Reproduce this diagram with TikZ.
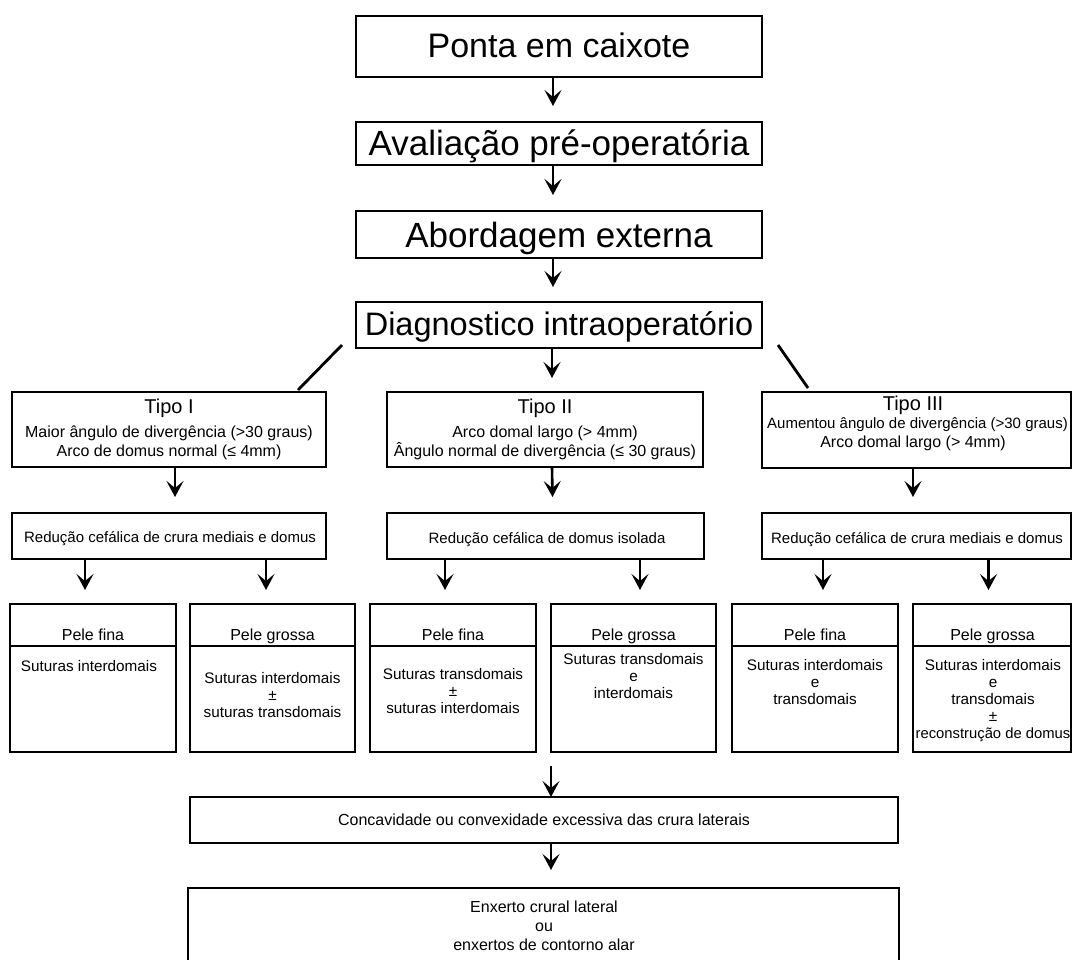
\documentclass[tikz,border=0pt]{standalone}
\usepackage{fontspec}
\setmainfont{Liberation Sans}
\usetikzlibrary{arrows.meta,calc}
\newcommand\fsz[1]{\fontsize{#1}{#1}\selectfont}
\tikzset{
  box/.style={draw, line width=1.5pt, inner sep=0pt, outer sep=0pt},
  bbox/.style={draw, line width=2.8pt, inner sep=0pt, outer sep=0pt},
  divline/.style={line width=1.5pt},
  arr/.style={line width=2.6pt, -{Stealth[length=16pt,width=17pt,inset=7pt]}},
  dline/.style={line width=2.8pt},
  txt/.style={anchor=base, inner sep=0pt},
}
\newcommand\rbox[6][box]{\node[#1,minimum width={#5-#3},minimum height={#6-#4}] (#2) at ({(#3+#5)/2},{(#4+#6)/2}) {};}
\begin{document}
\begin{tikzpicture}[x=1pt,y=-1pt]
\useasboundingbox (0,0) rectangle (1073,959);
\fill[white] (0,0) rectangle (1073,959);
% top chain
\rbox[bbox]{ponta}{356}{16}{762}{77}
\rbox{aval}{356}{122}{762}{165}
\rbox{abord}{356}{211}{762}{258}
\rbox{diag}{356}{302}{762}{348}
\node[txt,font=\fsz{34}] (pontat) at (559,57) {Ponta em caixote};
\node[txt,font=\fsz{35}] (avalt) at (559,155) {Avaliação pré-operatória};
\node[txt,font=\fsz{35}] (abordt) at (559,247) {Abordagem externa};
\node[txt,font=\fsz{32.5}] (diagt) at (559,335) {Diagnostico intraoperatório};
% tipo boxes
\rbox{tipo1}{12}{392}{326}{467}
\rbox{tipo2}{387}{392}{703}{467}
\rbox{tipo3}{762}{392}{1071}{468}
\node[txt,font=\fsz{20}] (t1a) at (169,413) {Tipo I};
\node[txt,font=\fsz{16}] (t1b) at (169,437) {Maior ângulo de divergência (>30 graus)};
\node[txt,font=\fsz{16}] (t1c) at (169,456) {Arco de domus normal (≤ 4mm)};
\node[txt,font=\fsz{20}] (t2a) at (545,413) {Tipo II};
\node[txt,font=\fsz{16}] (t2b) at (545,437) {Arco domal largo (> 4mm)};
\node[txt,font=\fsz{16}] (t2c) at (545,456) {Ângulo normal de divergência (≤ 30 graus)};
\node[txt,font=\fsz{20}] (t3a) at (913,410) {Tipo III};
\node[txt,anchor=base west,font=\fsz{15}] (t3b) at (767,428) {Aumentou ângulo de divergência (>30 graus)};
\node[txt,font=\fsz{16}] (t3c) at (913,447) {Arco domal largo (> 4mm)};
% reducao boxes
\rbox{red1}{12}{513}{326}{559}
\rbox{red2}{387}{513}{704}{559}
\rbox{red3}{762}{513}{1071}{559}
\node[txt,font=\fsz{15}] (r1t) at (170,542) {Redução cefálica de crura mediais e domus};
\node[txt,font=\fsz{15}] (r2t) at (547,543) {Redução cefálica de domus isolada};
\node[txt,font=\fsz{15}] (r3t) at (917,543) {Redução cefálica de crura mediais e domus};
% lower boxes
\rbox{pf1}{10}{604}{176}{752}
\rbox{pg1}{190}{604}{355}{752}
\rbox{pf2}{370}{604}{536}{752}
\rbox{pg2}{551}{604}{716}{752}
\rbox{pf3}{732}{604}{898}{752}
\rbox{pg3}{913}{604}{1071}{752}
\foreach \b in {pf1,pg1,pf2,pg2,pf3,pg3}{
  \draw[divline] ([yshift=-42pt]\b.north west) -- ([yshift=-42pt]\b.north east);
}
\node[txt,font=\fsz{16}] (pf1h) at (93,640) {Pele fina};
\node[txt,font=\fsz{16}] (pg1h) at (272.5,640) {Pele grossa};
\node[txt,font=\fsz{16}] (pf2h) at (453,640) {Pele fina};
\node[txt,font=\fsz{16}] (pg2h) at (633.5,640) {Pele grossa};
\node[txt,font=\fsz{16}] (pf3h) at (815,640) {Pele fina};
\node[txt,font=\fsz{16}] (pg3h) at (992.5,640) {Pele grossa};
\node[txt,font=\fsz{15.3}] (pf1a) at (89,671) {Suturas interdomais};
\node[txt,font=\fsz{15.3}] (pg1a) at (272.5,683) {Suturas interdomais};
\node[txt,font=\fsz{15.3}] (pg1b) at (272.5,700) {±};
\node[txt,font=\fsz{15.3}] (pg1c) at (272.5,717) {suturas transdomais};
\node[txt,font=\fsz{15.3}] (pf2a) at (453,679) {Suturas transdomais};
\node[txt,font=\fsz{15.3}] (pf2b) at (453,696) {±};
\node[txt,font=\fsz{15.3}] (pf2c) at (453,713) {suturas interdomais};
\node[txt,font=\fsz{15.3}] (pg2a) at (633.5,664) {Suturas transdomais};
\node[txt,font=\fsz{15.3}] (pg2b) at (633.5,681) {e};
\node[txt,font=\fsz{15.3}] (pg2c) at (633.5,698) {interdomais};
\node[txt,font=\fsz{15.3}] (pf3a) at (815,670) {Suturas interdomais};
\node[txt,font=\fsz{15.3}] (pf3b) at (815,687) {e};
\node[txt,font=\fsz{15.3}] (pf3c) at (815,704) {transdomais};
\node[txt,font=\fsz{15.3}] (pg3a) at (993,670) {Suturas interdomais};
\node[txt,font=\fsz{15.3}] (pg3b) at (993,687) {e};
\node[txt,font=\fsz{15.3}] (pg3c) at (993,704) {transdomais};
\node[txt,font=\fsz{15.3}] (pg3d) at (993,721) {±};
\node[txt,font=\fsz{14.8}] (pg3e) at (993,738) {reconstrução de domus};
% bottom
\rbox{conc}{190}{797}{898}{843}
\rbox[bbox]{final}{188}{888}{899}{975}
\node[txt,font=\fsz{16}] (conct) at (544,825) {Concavidade ou convexidade excessiva das crura laterais};
\node[txt,font=\fsz{16}] (fa) at (544,912) {Enxerto crural lateral};
\node[txt,font=\fsz{16}] (fb) at (544,931) {ou};
\node[txt,font=\fsz{16}] (fc) at (544,950) {enxertos de contorno alar};
% arrows
\draw[arr] ([xshift=-6pt]ponta.south) -- ([xshift=-6pt,yshift=16pt]aval.north);
\draw[arr] ([xshift=-6pt]aval.south) -- ([xshift=-6pt,yshift=16pt]abord.north);
\draw[arr] ([xshift=-6pt]abord.south) -- ([xshift=-6pt,yshift=15pt]diag.north);
\draw[arr] ([xshift=-7pt]diag.south) -- ([xshift=7pt,yshift=14pt]tipo2.north);
\draw[dline] ($(diag.south west)+(-14,-3)$) -- ($(tipo1.north east)+(-28,-2)$);
\draw[dline] ($(diag.south east)+(16,-3)$) -- ($(tipo3.north west)+(46,-4)$);
\draw[arr] ([xshift=6pt]tipo1.south) -- ([xshift=6pt,yshift=16pt]red1.north);
\draw[arr] ([xshift=7pt]tipo2.south) -- ([xshift=7pt,yshift=16pt]red2.north);
\draw[arr] ([xshift=-3.5pt]tipo3.south) -- ([xshift=-3.5pt,yshift=16pt]red3.north);
\draw[arr] ($(pf1.north |- red1.south)+(-8,0)$) -- ($(pf1.north)+(-8,-14)$);
\draw[arr] ($(pg1.north |- red1.south)+(-6.5,0)$) -- ($(pg1.north)+(-6.5,-14)$);
\draw[arr] ($(pf2.north |- red2.south)+(-8,0)$) -- ($(pf2.north)+(-8,-14)$);
\draw[arr] ($(pg2.north |- red2.south)+(6.5,0)$) -- ($(pg2.north)+(6.5,-14)$);
\draw[arr] ($(pf3.north |- red3.south)+(8,0)$) -- ($(pf3.north)+(8,-14)$);
\draw[arr] ($(pg3.north |- red3.south)+(-3.5,0)$) -- ($(pg3.north)+(-3.5,-14)$);
\coordinate (lo) at (551,766);
\draw[arr] (lo) -- (conc.north -| lo);
\draw[arr] (conc.south -| lo) -- ($(final.north -| lo)+(0,-18)$);
\end{tikzpicture}
\end{document}
